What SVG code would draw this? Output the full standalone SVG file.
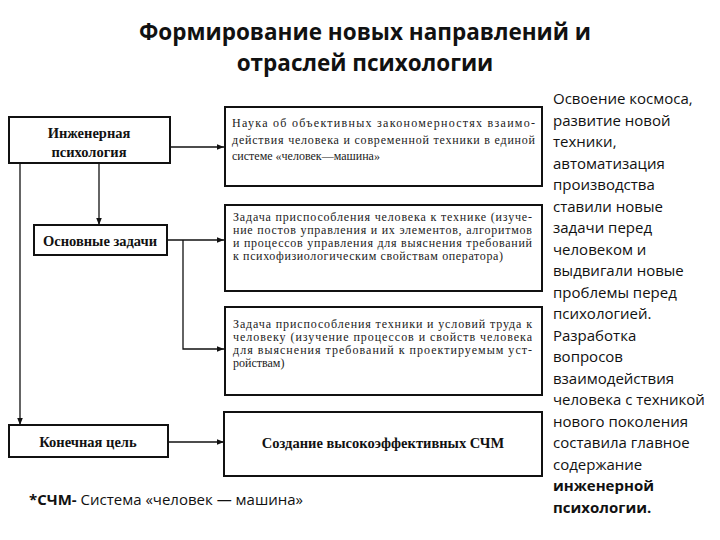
<svg xmlns="http://www.w3.org/2000/svg" width="720" height="540" viewBox="0 0 720 540">
<defs>
<marker id="arr" viewBox="0 0 10 10" refX="10" refY="5" markerWidth="7" markerHeight="7" markerUnits="userSpaceOnUse" orient="auto">
<path d="M0,1 L10,5 L0,9 z" fill="#111"/>
</marker>
<style>
.box{fill:#fff;stroke:#111;stroke-width:2}
.ln{fill:none;stroke:#111;stroke-width:1.3}
.bt{font-family:"Liberation Serif",serif;font-size:12px;fill:#222}
.hb{font-family:"Liberation Serif",serif;font-size:14.5px;font-weight:bold;fill:#111}
.title{font-family:"Open Sans","Noto Sans",sans-serif;font-size:22.5px;font-weight:bold;fill:#111}
.side{font-family:"Open Sans","Noto Sans",sans-serif;font-size:15px;fill:#111}
.note{font-family:"Open Sans","Noto Sans",sans-serif;font-size:15px;fill:#111}
</style>
</defs>
<rect width="720" height="540" fill="#fff"/>
<g id="title">
<text class="title" x="365" y="40" text-anchor="middle">Формирование новых направлений и</text>
<text class="title" x="365" y="71" text-anchor="middle">отраслей психологии</text>
</g>
<g id="connectors">
<line class="ln" x1="170" y1="147" x2="224" y2="147" marker-end="url(#arr)"/>
<line class="ln" x1="99" y1="163" x2="99" y2="225" marker-end="url(#arr)"/>
<line class="ln" x1="20" y1="163" x2="20" y2="425" marker-end="url(#arr)"/>
<line class="ln" x1="167" y1="240" x2="224" y2="240" marker-end="url(#arr)"/>
<polyline class="ln" points="183,240 183,349 224,349" marker-end="url(#arr)"/>
<line class="ln" x1="168" y1="442" x2="224" y2="442" marker-end="url(#arr)"/>
</g>
<g id="n-eng">
<rect class="box" x="9" y="117" width="161" height="46"/>
<text class="hb" x="89" y="138" text-anchor="middle">Инженерная</text>
<text class="hb" x="89" y="157" text-anchor="middle">психология</text>
</g>
<g id="n-tasks">
<rect class="box" x="34" y="225" width="133" height="30"/>
<text class="hb" x="100" y="246" text-anchor="middle">Основные задачи</text>
</g>
<g id="n-goal">
<rect class="box" x="9" y="425" width="159" height="32"/>
<text class="hb" x="88" y="447" text-anchor="middle">Конечная цель</text>
</g>
<g id="n-science">
<rect class="box" x="225" y="107" width="317" height="79"/>
<text class="bt" x="232" y="127" textLength="303" lengthAdjust="spacing">Наука об объективных закономерностях взаимо-</text>
<text class="bt" x="232" y="144" textLength="303" lengthAdjust="spacing">действия человека и современной техники в единой</text>
<text class="bt" x="232" y="160">системе «человек—машина»</text>
</g>
<g id="n-task1">
<rect class="box" x="225" y="205" width="317" height="86"/>
<text class="bt" x="233" y="221" textLength="299" lengthAdjust="spacing">Задача приспособления человека к технике (изуче-</text>
<text class="bt" x="233" y="234" textLength="299" lengthAdjust="spacing">ние постов управления и их элементов, алгоритмов</text>
<text class="bt" x="233" y="247" textLength="299" lengthAdjust="spacing">и процессов управления для выяснения требований</text>
<text class="bt" x="233" y="260" textLength="270" lengthAdjust="spacing">к психофизиологическим свойствам оператора)</text>
</g>
<g id="n-task2">
<rect class="box" x="225" y="307" width="317" height="88"/>
<text class="bt" x="233" y="328" textLength="299" lengthAdjust="spacing">Задача приспособления техники и условий труда к</text>
<text class="bt" x="233" y="341" textLength="299" lengthAdjust="spacing">человеку (изучение процессов и свойств человека</text>
<text class="bt" x="233" y="354" textLength="299" lengthAdjust="spacing">для выяснения требований к проектируемым уст-</text>
<text class="bt" x="233" y="367">ройствам)</text>
</g>
<g id="n-create">
<rect class="box" x="224" y="412" width="318" height="64"/>
<text class="hb" x="383" y="448" text-anchor="middle">Создание высокоэффективных СЧМ</text>
</g>
<g id="side">
<text class="side" x="553" y="104">Освоение космоса,</text>
<text class="side" x="553" y="125.5">развитие новой</text>
<text class="side" x="553" y="147">техники,</text>
<text class="side" x="553" y="168.5">автоматизация</text>
<text class="side" x="553" y="190">производства</text>
<text class="side" x="553" y="211.5">ставили новые</text>
<text class="side" x="553" y="233">задачи перед</text>
<text class="side" x="553" y="254.5">человеком и</text>
<text class="side" x="553" y="276">выдвигали новые</text>
<text class="side" x="553" y="297.5">проблемы перед</text>
<text class="side" x="553" y="319">психологией.</text>
<text class="side" x="553" y="340.5">Разработка</text>
<text class="side" x="553" y="362">вопросов</text>
<text class="side" x="553" y="383.5">взаимодействия</text>
<text class="side" x="553" y="405">человека с техникой</text>
<text class="side" x="553" y="426.5">нового поколения</text>
<text class="side" x="553" y="448">составила главное</text>
<text class="side" x="553" y="469.5">содержание</text>
<text class="side" x="553" y="491" font-weight="bold">инженерной</text>
<text class="side" x="553" y="512.5" font-weight="bold">психологии.</text>
</g>
<g id="footnote">
<text class="note" x="29" y="505"><tspan font-weight="bold">*СЧМ-</tspan> Система «человек — машина»</text>
</g>
</svg>
